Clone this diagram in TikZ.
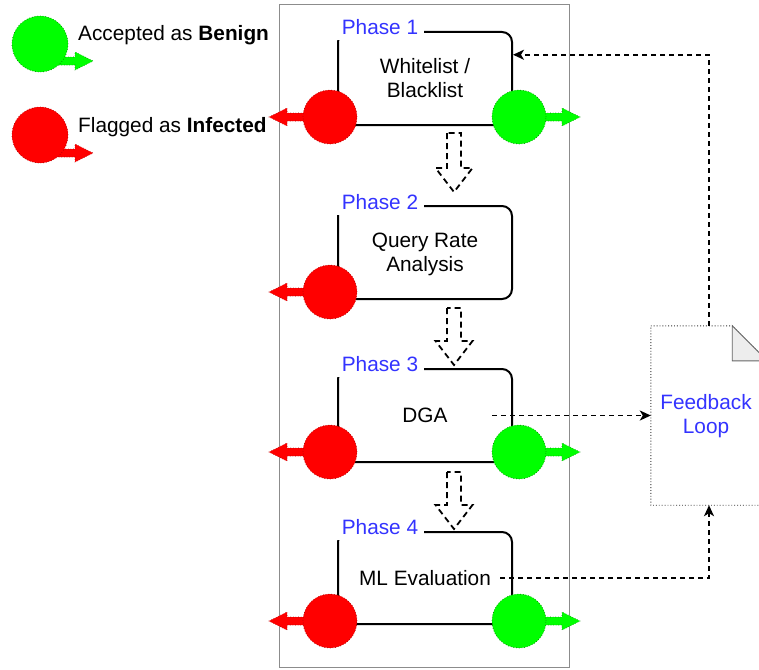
\documentclass[tikz,border=0pt]{standalone}
\usepackage{fontspec}
\setmainfont{Liberation Sans}
\usetikzlibrary{arrows.meta,calc}
\definecolor{phblue}{HTML}{3333FF}
\definecolor{okgreen}{HTML}{00FF00}
\definecolor{badred}{HTML}{FF0000}
\newcommand{\flexarr}[3]{%
  \path[#3] let \p1=(#1), \p2=(#2), \p3=($(#2)!18pt!(#1)$) in
    (\x1,\y1+4pt) -- (\x3,\y1+4pt) -- (\x3,\y1+9pt) -- (\x2,\y2) --
    (\x3,\y1-9pt) -- (\x3,\y1-4pt) -- (\x1,\y1-4pt) -- cycle;}
\newcommand{\hollowdown}[2]{%
  \path[hollowarrow] let \p1=(#1), \p2=(#2), \p3=($(#2)!24pt!(#1)$) in
    (\x1-7pt,\y1) -- (\x1-7pt,\y3) -- (\x1-18.5pt,\y3) -- (\x2,\y2) --
    (\x1+18.5pt,\y3) -- (\x1+7pt,\y3) -- (\x1+7pt,\y1) -- cycle;}
\begin{document}
\begin{tikzpicture}[x=1pt,y=-1pt,
  font=\fontsize{20.8}{24}\selectfont,
  phasebox/.style={draw=black, line width=2pt, rounded corners=10pt,
    minimum width=174pt, minimum height=93pt, inner sep=0pt, align=center},
  phaselabel/.style={fill=white, text=phblue, inner xsep=6pt, inner ysep=0pt,
    minimum height=26pt},
  redcirc/.style={circle, fill=badred, draw=badred!65!black, dotted,
    line width=0.7pt, minimum size=54pt, inner sep=0pt},
  greencirc/.style={circle, fill=okgreen, draw=okgreen!50!black, dotted,
    line width=0.7pt, minimum size=54pt, inner sep=0pt},
  redflex/.style={fill=badred, draw=badred!65!black, dotted, line width=0.6pt},
  greenflex/.style={fill=okgreen, draw=okgreen!50!black, dotted, line width=0.6pt},
  hollowarrow/.style={draw=black, line width=1.8pt, dash pattern=on 6pt off 4pt, fill=white},
  fbline/.style={draw=black, line width=1.8pt, dash pattern=on 5pt off 4pt,
    -{Stealth[length=11pt,width=10pt,inset=3pt]}},
  notestyle/.style={draw=black!80, dotted, line width=0.9pt, fill=white},
  txt/.style={inner sep=0pt, align=center}
]
\useasboundingbox (0,0) rectangle (759,669);
\clip (0,0) rectangle (759,669);

% container
\draw[black!45, line width=1pt] (279.5,5) rectangle (569.5,667.5);

% legend
\coordinate (lgc) at (40,44);
\coordinate (lgs) at (55,61);
\coordinate (lgt) at (93,61);
\coordinate (lrc) at (40,135);
\coordinate (lrs) at (55,153);
\coordinate (lrt) at (93,153);
\flexarr{lgs}{lgt}{greenflex}
\flexarr{lrs}{lrt}{redflex}
\node[greencirc, minimum size=56pt] (lg) at (lgc) {};
\node[redcirc, minimum size=56pt] (lr) at (lrc) {};
\node[anchor=west, inner sep=0pt] (lgtxt) at (78,35) {Accepted as \textbf{Benign}};
\node[anchor=west, inner sep=0pt] (lrtxt) at (78,127) {Flagged as \textbf{Infected}};

% phase boxes
\node[phasebox] (ph1) at (425,78.5) {Whitelist /\\Blacklist};
\node[phasebox] (ph2) at (425,252.5) {};
\node[phasebox] (ph3) at (425,415.5) {};
\node[phasebox, minimum height=92pt] (ph4) at (425,578) {};
\node[txt] (qra) at (425,254.5) {Query Rate\\Analysis};
\node[txt, minimum width=134pt] (dga) at (425,415.5) {DGA};
\node[txt, minimum width=150pt] (ml) at (425,578) {ML Evaluation};

\node[phaselabel] (lab1) at (380,27) {Phase 1};
\node[phaselabel] (lab2) at (380,202) {Phase 2};
\node[phaselabel] (lab3) at (380,364) {Phase 3};
\node[phaselabel] (lab4) at (380,527) {Phase 4};

% hollow dashed arrows between phases
\coordinate (a1t) at (454,133);
\coordinate (a1b) at (454,192);
\coordinate (a2t) at (454,308);
\coordinate (a2b) at (454,365);
\coordinate (a3t) at (454,472);
\coordinate (a3b) at (454,529);
\hollowdown{a1t}{a1b}
\hollowdown{a2t}{a2b}
\hollowdown{a3t}{a3b}

% outcome arrows and circles
\coordinate (r1c) at (330,117);
\coordinate (g1c) at (519,117);
\coordinate (r2c) at (330,292);
\coordinate (r3c) at (330,452);
\coordinate (g3c) at (519,452);
\coordinate (r4c) at (330,621);
\coordinate (g4c) at (519,621);
\coordinate (r1t) at (269,117);
\coordinate (g1t) at (580,117);
\coordinate (r2t) at (269,292);
\coordinate (r3t) at (269,452);
\coordinate (g3t) at (580,452);
\coordinate (r4t) at (269,621);
\coordinate (g4t) at (580,621);
\flexarr{r1c}{r1t}{redflex}
\flexarr{g1c}{g1t}{greenflex}
\flexarr{r2c}{r2t}{redflex}
\flexarr{r3c}{r3t}{redflex}
\flexarr{g3c}{g3t}{greenflex}
\flexarr{r4c}{r4t}{redflex}
\flexarr{g4c}{g4t}{greenflex}
\node[redcirc] (r1) at (r1c) {};
\node[greencirc] (g1) at (g1c) {};
\node[redcirc] (r2) at (r2c) {};
\node[redcirc] (r3) at (r3c) {};
\node[greencirc] (g3) at (g3c) {};
\node[redcirc] (r4) at (r4c) {};
\node[greencirc] (g4) at (g4c) {};

% feedback note
\node[minimum width=116pt, minimum height=179pt, inner sep=0pt] (fb) at (709,415.5) {};
\path[notestyle] (fb.north west) -- ($(fb.north east)+(-35,0)$) -- ($(fb.north east)+(0,35)$)
  -- (fb.south east) -- (fb.south west) -- cycle;
\filldraw[fill=black!7, draw=black!60, line width=0.9pt] ($(fb.north east)+(-35,0)$)
  -- ($(fb.north east)+(-35,35)$) -- ($(fb.north east)+(0,35)$) -- cycle;
\node[txt, text=phblue] (fbtxt) at (706,416.5) {Feedback\\Loop};

% feedback connectors
\coordinate (p1in) at ($(ph1.north east)!0.25!(ph1.south east)$);
\draw[fbline] (dga.east) -- (fb.west);
\draw[fbline] (ml.east) -| (fb.south);
\draw[fbline] (fb.north) |- (p1in);
\end{tikzpicture}
\end{document}
